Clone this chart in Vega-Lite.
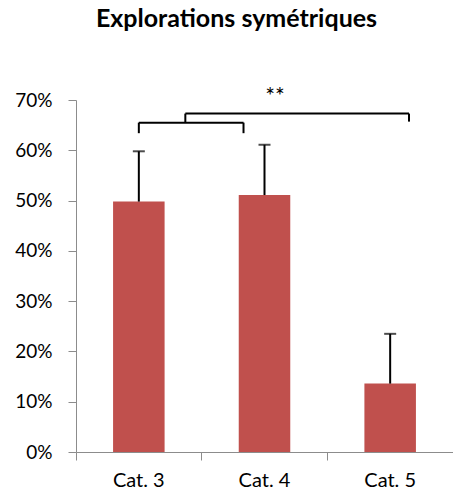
{
  "$schema": "https://vega.github.io/schema/vega-lite/v6.json",
  "autosize": "none",
  "padding": {"left": 76, "top": 100, "right": 0, "bottom": 40},
  "width": 377,
  "height": 352,
  "title": {
    "text": "Explorations symétriques",
    "font": "Lato",
    "fontSize": 25,
    "fontWeight": "bold",
    "color": "#000000",
    "anchor": "middle",
    "frame": "group",
    "dx": -28,
    "offset": 54
  },
  "config": {
    "view": {"stroke": null},
    "font": "Lato"
  },
  "datasets": {
    "bars": [
      {"cat": "Cat. 3", "value": 0.498, "upper": 0.598},
      {"cat": "Cat. 4", "value": 0.511, "upper": 0.611},
      {"cat": "Cat. 5", "value": 0.136, "upper": 0.235}
    ],
    "brackets": [
      {"x": 0.5, "x2": 1.333, "y": 0.655, "y2": 0.655},
      {"x": 0.5, "x2": 0.5, "y": 0.634, "y2": 0.655},
      {"x": 1.333, "x2": 1.333, "y": 0.634, "y2": 0.655},
      {"x": 0.87, "x2": 0.87, "y": 0.655, "y2": 0.673},
      {"x": 0.87, "x2": 2.65, "y": 0.673, "y2": 0.673},
      {"x": 2.65, "x2": 2.65, "y": 0.657, "y2": 0.673}
    ],
    "labels": [
      {"x": 1.583, "y": 0.7066, "text": "**"}
    ]
  },
  "layer": [
    {
      "data": {"name": "bars"},
      "encoding": {
        "x": {
          "field": "cat",
          "type": "nominal",
          "sort": null,
          "scale": {"paddingInner": 0, "paddingOuter": 0},
          "axis": {
            "title": null,
            "labelAngle": 0,
            "labelFont": "Lato",
            "labelFontSize": 20,
            "labelColor": "#000000",
            "labelPadding": 10,
            "domainColor": "#8c8c8c",
            "tickColor": "#8c8c8c",
            "tickSize": 8,
            "bandPosition": 0
          }
        }
      },
      "layer": [
        {
          "mark": {"type": "bar", "color": "#C0504D", "width": {"band": 0.41}},
          "encoding": {
            "y": {
              "field": "value",
              "type": "quantitative",
              "scale": {"domain": [0, 0.7], "nice": false},
              "axis": {
                "title": null,
                "format": ".0%",
                "values": [0, 0.1, 0.2, 0.3, 0.4, 0.5, 0.6, 0.7],
                "grid": false,
                "labelFont": "Lato",
                "labelFontSize": 19,
                "labelColor": "#000000",
                "labelPadding": 16,
                "domainColor": "#8c8c8c",
                "tickColor": "#8c8c8c",
                "tickSize": 8
              }
            }
          }
        },
        {
          "mark": {"type": "rule", "color": "#000000", "strokeWidth": 2},
          "encoding": {
            "y": {"field": "value", "type": "quantitative"},
            "y2": {"field": "upper"}
          }
        },
        {
          "mark": {"type": "tick", "color": "#000000", "thickness": 2, "size": 12, "orient": "horizontal"},
          "encoding": {
            "y": {"field": "upper", "type": "quantitative"}
          }
        }
      ]
    },
    {
      "layer": [
        {
          "data": {"name": "brackets"},
          "mark": {"type": "rule", "color": "#000000", "strokeWidth": 2},
          "encoding": {
            "x": {"field": "x", "type": "quantitative", "scale": {"domain": [0, 3], "nice": false}, "axis": null},
            "x2": {"field": "x2"},
            "y": {"field": "y", "type": "quantitative"},
            "y2": {"field": "y2"}
          }
        },
        {
          "data": {"name": "labels"},
          "mark": {"type": "text", "font": "Lato", "fontSize": 23, "color": "#000000", "baseline": "middle"},
          "encoding": {
            "x": {"field": "x", "type": "quantitative", "scale": {"domain": [0, 3], "nice": false}, "axis": null},
            "y": {"field": "y", "type": "quantitative"},
            "text": {"field": "text"}
          }
        }
      ]
    }
  ],
  "resolve": {"scale": {"x": "independent"}}
}
